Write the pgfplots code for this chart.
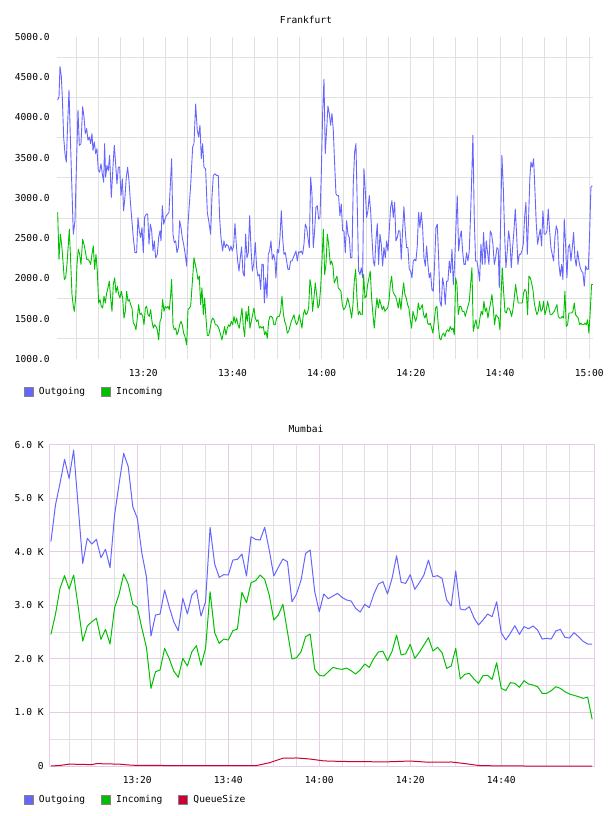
\documentclass[border=0pt]{standalone}
\usepackage{pgfplots}
\usepackage{pgfplotstable}
\pgfplotsset{compat=1.18}
\usepackage{fontspec}
\setmainfont{DejaVu Sans Mono}
\definecolor{outblue}{RGB}{102,102,255}
\definecolor{ingreen}{RGB}{0,192,0}
\definecolor{qred}{RGB}{204,0,51}
\definecolor{gridgray}{RGB}{224,224,224}
\definecolor{pinkgrid}{RGB}{228,204,228}
\definecolor{boxgray}{RGB}{130,130,130}
\pgfplotstableread{
t out in
1 4189 2458
2 4873 2832
3 5278 3317
4 5726 3554
5 5371 3305
6 5900 3566
7 4842 2975
8 3784 2334
9 4251 2614
10 4145 2695
11 4232 2757
12 3890 2365
13 4046 2552
14 3703 2278
15 4687 2956
16 5278 3212
17 5838 3585
18 5589 3398
19 4842 3019
20 4624 2963
21 3971 2571
22 3535 2216
23 2427 1450
24 2819 1761
25 2838 1793
26 3286 2197
27 2975 2010
28 2695 1774
29 2527 1656
30 3131 2010
31 2838 1867
32 3193 2135
33 3286 2247
34 2801 1880
35 3068 2197
36 4456 3255
37 3772 2490
38 3523 2290
39 3573 2371
40 3566 2353
41 3846 2527
42 3859 2558
43 3958 3243
44 3548 3050
45 4282 3423
46 4232 3461
47 4220 3566
48 4456 3485
49 4033 3193
50 3548 2726
51 3710 2819
52 3865 3019
53 3815 2508
54 3068 1998
55 3212 2023
56 3473 2135
57 3971 2415
58 4033 2465
59 3255 1805
60 2882 1693
61 3212 1680
62 3124 1761
63 3174 1842
64 3224 1817
65 3149 1805
66 3100 1830
67 3081 1780
68 2944 1718
69 2875 1793
70 3019 1905
71 2956 1842
72 3212 2010
73 3398 2129
74 3442 2141
75 3212 1967
76 3504 2141
77 3927 2446
78 3429 2073
79 3411 2097
80 3573 2272
81 3299 2010
82 3423 2122
83 3566 2259
84 3846 2396
85 3535 2147
86 3554 2216
87 3504 2116
88 3100 1824
89 2988 1867
90 3641 2197
91 2932 1624
92 2913 1712
93 2975 1730
94 2770 1624
95 2633 1544
96 2726 1687
97 2838 1693
98 2788 1618
99 3068 1929
100 2490 1450
101 2353 1407
102 2477 1556
103 2620 1544
104 2458 1469
105 2602 1593
106 2564 1531
107 2614 1512
108 2539 1481
109 2371 1357
110 2384 1357
111 2371 1407
112 2521 1481
113 2552 1450
114 2402 1388
115 2390 1344
116 2490 1319
117 2415 1295
118 2328 1263
119 2278 1288
120 2278 871
}\mumbai
\pgfplotstableread{
t q
1 0
3 10
5 35
8 30
10 25
11 45
13 40
16 35
18 20
20 10
25 10
30 5
40 5
46 5
49 60
52 145
55 150
58 130
61 95
65 85
70 80
75 78
80 93
84 70
89 75
92 45
95 10
99 2
105 0
120 0
}\mumbaiq
\pgfplotsset{
 chartbase/.style={
  scale only axis, anchor=south west,
  /pgf/number format/assume math mode=true,
  major tick length=0pt, minor tick length=0pt,
  tick style={draw=none},
  xticklabel style={yshift=-7pt},
  legend columns=-1,
  legend cell align=left,
  legend style={draw=none, fill=none, inner sep=0pt, outer sep=0pt,
    at={(axis description cs:0,0)}, anchor=west,
    nodes={inner sep=0pt},
    /tikz/every odd column/.append style={column sep=5pt},
    /tikz/every even column/.append style={column sep=16pt}},
 },
 outleg/.style={legend image code/.code={\draw[fill=outblue,draw=boxgray,line width=1pt] (0.5pt,-4.5pt) rectangle (9.5pt,4.5pt);}},
 inleg/.style={legend image code/.code={\draw[fill=ingreen,draw=boxgray,line width=1pt] (0.5pt,-4.5pt) rectangle (9.5pt,4.5pt);}},
 qleg/.style={legend image code/.code={\draw[fill=qred,draw=boxgray,line width=1pt] (0.5pt,-4.5pt) rectangle (9.5pt,4.5pt);}},
}
\begin{document}
\fontsize{9.6}{11.5}\selectfont
\begin{tikzpicture}
\path[use as bounding box] (0,0) rectangle (608pt,816pt);
\node at (306pt,796pt) {Frankfurt};
\node at (306pt,387pt) {Mumbai};
\begin{axis}[chartbase,
  at={(57pt,457pt)}, width=536pt, height=322pt,
  xmin=0.65, xmax=120.85, ymin=1000, ymax=5000,
  axis line style={draw=none},
  xtick={20,40,60,80,100,120}, xticklabels={13:20,13:40,14:00,14:20,14:40,15:00},
  ytick={1000,1500,...,5000},
  yticklabels={1000.0,1500.0,2000.0,2500.0,3000.0,3500.0,4000.0,4500.0,5000.0},
  yticklabel style={xshift=-4pt},
  minor xtick={5,10,...,120}, minor ytick={1250,1750,...,4750},
  xmajorgrids=false, ymajorgrids=false,
  xminorgrids=true, yminorgrids=true,
  major grid style={gridgray, line width=1pt},
  minor grid style={gridgray, line width=1pt},
  legend style={xshift=-33pt, yshift=-33pt},
]
\addplot[outblue, line width=0.9pt, line join=round, outleg] coordinates {
(0.80,4217)(1.10,4258)(1.32,4633)(1.62,4508)(1.84,4258)(2.14,3758)(2.44,3550)(2.74,3446)(3.04,3925)(3.34,4342)(3.64,3758)(3.94,3217)(4.31,2550)(4.68,2717)(4.98,3342)(5.36,4092)(5.66,3654)(6.03,3675)(6.40,4133)(6.70,4008)(7.00,3800)(7.30,3863)(7.60,3717)(7.90,3758)(8.20,3675)(8.49,3800)(8.72,3592)(9.02,3696)(9.32,3550)(9.61,3613)(9.91,3342)(10.21,3321)(10.51,3425)(10.81,3300)(11.11,3196)(11.33,3675)(11.56,3258)(11.86,3404)(12.16,3342)(12.45,3529)(12.83,3008)(13.20,3383)(13.50,3654)(13.80,3425)(14.10,3175)(14.40,3383)(14.70,3383)(15.00,3029)(15.30,3238)(15.59,2842)(15.89,3008)(16.19,3258)(16.49,3383)(16.79,3217)(17.09,2967)(17.39,2758)(17.76,2508)(18.13,2321)(18.51,2321)(18.81,2758)(19.11,2592)(19.41,2508)(19.71,2633)(20.00,2321)(20.30,2758)(20.68,2800)(20.98,2800)(21.28,2425)(21.58,2675)(21.88,2592)(22.18,2342)(22.48,2467)(22.77,2258)(23.15,2300)(23.45,2508)(23.75,2592)(23.97,2467)(24.27,2904)(24.57,2675)(24.87,2738)(25.17,2779)(25.46,2800)(25.76,2821)(26.06,3154)(26.36,3488)(26.66,2550)(26.96,2446)(27.26,2467)(27.56,2321)(27.86,2383)(28.16,2717)(28.46,2633)(28.75,2508)(29.05,2425)(29.35,2321)(29.73,2154)(30.03,2675)(30.33,2925)(30.62,3154)
(31.07,3633)(31.37,3675)(31.74,4167)(32.11,3842)(32.41,3758)(32.71,3904)(33.01,3488)(33.31,3675)(33.61,3383)(33.98,3363)(34.36,2821)(34.73,2696)(35.10,2550)(35.40,3008)(35.70,3279)(36.08,3300)(36.45,3279)(36.82,3279)(37.12,2758)(37.42,2508)(37.79,2342)(38.09,2467)(38.39,2383)(38.69,2425)(39.06,2404)(39.36,2342)(39.66,2404)(39.96,2342)(40.26,2404)(40.56,2683)(40.86,2425)(41.16,2217)(41.46,2092)(41.76,2258)(42.05,2392)(42.35,2071)(42.65,2029)(42.95,2550)(43.25,2258)(43.55,2321)(43.85,2779)(44.15,2383)(44.45,2092)(44.75,2175)(45.12,2446)(45.42,2133)(45.72,2029)(46.02,2050)(46.32,1863)(46.61,2175)(46.91,2175)(47.14,1696)(47.44,2008)(47.74,1758)(48.03,2300)(48.33,2342)(48.63,2467)(48.93,2238)(49.23,2300)(49.53,2217)(49.75,2008)(50.05,2363)(50.35,2321)(50.65,2508)(50.95,2842)(51.25,2508)(51.55,2300)(51.85,2321)(52.15,2217)(52.44,2113)(52.74,2113)(53.04,2217)(53.34,2217)(53.64,2258)(53.94,2300)(54.24,2342)(54.54,2217)(54.84,2333)(55.14,2321)(55.43,2342)(55.73,2300)(56.03,2425)(56.33,2675)(56.63,2633)(56.93,2508)(57.23,2383)(57.53,3258)(57.83,3050)(58.12,2383)(58.42,2592)(58.72,2883)(59.02,2904)(59.32,2738)(59.62,2758)(59.92,3300)(60.22,4050)(60.52,4475)(60.81,3550)(61.11,3842)(61.41,4142)(61.71,4050)
(62.01,3904)(62.31,4050)(62.61,3842)(62.91,3425)(63.21,3050)(63.51,3029)(63.80,3029)(64.10,2779)(64.40,2925)(64.70,2592)(65.00,2592)(65.30,2321)(65.60,2717)(65.90,2550)(66.20,2508)(66.49,2258)(66.79,2258)(67.09,3175)(67.39,3571)(67.69,3675)(67.99,2883)(68.29,2092)(68.59,2050)(68.89,2133)(69.19,2008)(69.48,3363)(69.78,3092)(70.08,2758)(70.38,2842)(70.68,3029)(70.98,2842)(71.28,2508)(71.58,2217)(71.88,2154)(72.17,2467)(72.47,2683)(72.77,2175)(73.07,2550)(73.37,2425)(73.67,2154)(73.97,2383)(74.27,2258)(74.57,2467)(74.87,2342)(75.16,2592)(75.46,2883)(75.76,2967)(76.06,2758)(76.36,2946)(76.66,2467)(76.96,2508)(77.26,2592)(77.56,2592)(77.85,2238)(78.15,2592)(78.45,2892)(78.75,2592)(79.05,2383)(79.35,2383)(79.65,2113)(79.95,2092)(80.25,2008)(80.55,2217)(80.84,2238)(81.14,2217)(81.44,2404)(81.74,2821)(82.04,2633)(82.34,2821)(82.64,2633)(82.94,2258)(83.24,2154)(83.54,2404)(83.83,2175)(84.13,2008)(84.43,2071)(84.73,1863)(85.03,1842)(85.33,2175)(85.63,2633)(85.93,2675)(86.23,2258)(86.53,1717)(86.82,1654)(87.12,2008)(87.42,1904)(87.72,1675)(88.02,1967)(88.32,1967)(88.62,2217)(88.92,2071)(89.22,2363)(89.52,1925)(89.81,2175)(90.11,2633)(90.41,3029)(90.71,2342)(91.01,2508)(91.31,2592)(91.61,2342)
(91.91,2175)(92.21,2175)(92.50,2321)(92.80,2217)(93.10,2342)(93.40,2800)(93.70,3342)(93.92,3779)(94.22,2758)(94.52,2217)(94.82,2217)(95.12,2113)(95.42,1967)(95.72,2425)(96.02,2175)(96.32,2571)(96.62,2175)(96.91,2467)(97.21,2321)(97.51,2175)(97.81,2592)(98.11,2550)(98.41,2425)(98.71,2175)(99.01,2258)(99.31,2383)(99.60,2363)(99.83,1883)(100.13,2675)(100.43,3529)(100.73,3133)(101.03,2550)(101.32,2133)(101.62,2342)(101.92,2592)(102.22,2467)(102.52,2133)(102.82,2383)(103.12,2592)(103.42,2863)(103.72,2550)(104.01,2175)(104.31,2300)(104.61,2300)(104.91,2342)(105.21,2425)(105.51,2758)(105.81,2946)(106.11,2300)(106.41,2758)(106.70,3258)(106.93,3446)(107.23,3383)(107.53,3488)(107.83,3092)(108.13,2675)(108.43,2425)(108.72,2529)(109.02,2613)(109.32,2404)(109.62,2842)(109.92,2550)(110.22,2550)(110.52,2592)(110.82,2863)(111.12,2592)(111.41,2383)(111.71,2300)(112.01,2217)(112.31,2508)(112.61,2654)(112.91,2592)(113.21,2175)(113.51,2029)(113.81,2175)(114.10,1988)(114.40,2738)(114.70,2425)(115.00,2008)(115.30,2383)(115.60,2425)(115.90,2217)(116.20,2383)(116.50,2571)(116.79,2258)(117.09,2154)(117.39,2342)(117.69,2217)(117.99,2133)(118.29,2092)(118.59,2071)(118.89,1904)(119.19,2154)(119.49,2113)(119.79,2113)(120.08,2529)(120.38,3133)(120.68,3154)
};
\addlegendentry{Outgoing}
\addplot[ingreen, line width=0.9pt, line join=round, inleg] coordinates {
(0.80,2821)(1.10,2238)(1.40,2550)(1.69,2425)(1.99,2217)(2.29,1988)(2.59,2008)(2.89,2175)(3.19,2425)(3.41,2613)(3.71,2217)(4.01,1800)(4.31,1654)(4.54,1592)(4.83,1758)(5.13,2175)(5.43,2363)(5.73,2300)(6.03,2175)(6.40,2488)(6.70,2425)(7.00,2342)(7.30,2238)(7.60,2238)(7.90,2217)(8.20,2175)(8.49,2300)(8.79,2404)(9.09,2113)(9.39,2300)(9.69,2092)(9.99,1696)(10.29,1738)(10.59,1654)(10.89,1633)(11.19,1779)(11.49,1696)(11.79,1821)(12.08,1883)(12.38,1967)(12.68,1758)(12.98,1592)(13.28,1925)(13.58,2008)(13.88,1821)(14.18,1904)(14.48,1800)(14.77,1758)(15.07,1842)(15.37,1758)(15.67,1508)(15.97,1592)(16.27,1842)(16.57,1717)(16.87,1738)(17.17,1675)(17.47,1633)(17.76,1446)(18.06,1425)(18.36,1363)(18.66,1508)(18.96,1675)(19.26,1550)(19.56,1571)(19.86,1529)(20.16,1425)(20.46,1633)(20.75,1654)(21.05,1550)(21.35,1529)(21.65,1613)(21.95,1467)(22.25,1383)(22.55,1425)(22.85,1404)(23.15,1363)(23.45,1238)(23.75,1467)(24.04,1508)(24.34,1738)(24.64,1592)(24.94,1654)(25.24,1633)(25.54,1654)(25.84,1613)(26.14,1800)(26.36,1988)(26.66,1425)(26.96,1363)(27.26,1383)(27.56,1300)(27.86,1342)(28.16,1425)(28.46,1467)(28.75,1425)(29.05,1321)(29.35,1279)(29.73,1175)(30.03,1613)(30.33,1633)(30.62,1654)
(31.07,2008)(31.37,2258)(31.67,2175)(31.97,2092)(32.26,1988)(32.56,2029)(32.86,1675)(33.16,1883)(33.46,1550)(33.76,1758)(34.06,1508)(34.36,1292)(34.66,1292)(34.95,1363)(35.25,1467)(35.55,1508)(35.85,1488)(36.15,1425)(36.45,1425)(36.75,1404)(37.05,1363)(37.35,1300)(37.64,1238)(37.94,1321)(38.24,1404)(38.54,1300)(38.84,1383)(39.14,1425)(39.44,1404)(39.74,1467)(40.04,1425)(40.34,1529)(40.63,1446)(40.93,1508)(41.23,1425)(41.53,1383)(41.83,1508)(42.13,1633)(42.43,1404)(42.73,1279)(43.03,1592)(43.32,1467)(43.62,1654)(43.92,1383)(44.22,1467)(44.52,1550)(44.82,1633)(45.12,1508)(45.42,1467)(45.72,1488)(46.02,1383)(46.32,1404)(46.61,1383)(46.91,1404)(47.21,1300)(47.51,1342)(47.81,1258)(48.11,1467)(48.41,1529)(48.71,1529)(49.01,1508)(49.30,1425)(49.60,1425)(49.90,1508)(50.20,1529)(50.50,1529)(50.80,1592)(51.10,1779)(51.40,1571)(51.70,1467)(51.99,1425)(52.29,1321)(52.59,1342)(52.89,1404)(53.19,1467)(53.49,1508)(53.79,1550)(54.09,1467)(54.39,1425)(54.69,1467)(54.98,1550)(55.28,1467)(55.58,1383)(55.88,1550)(56.18,1613)(56.48,1550)(56.78,1571)(57.08,1633)(57.38,1988)(57.68,1883)(57.97,1592)(58.27,1758)(58.57,1946)(58.87,1800)(59.17,1633)(59.47,1675)(59.77,1883)(60.07,2217)(60.37,2613)(60.67,2050)(60.97,2175)(61.27,2550)(61.57,2425)
(61.94,2175)(62.23,2217)(62.53,2154)(62.83,1946)(63.13,1988)(63.43,2029)(63.73,1883)(64.03,1863)(64.33,1842)(64.63,1675)(64.93,1613)(65.22,1633)(65.52,1675)(65.82,1758)(66.12,1696)(66.42,1613)(66.72,1508)(67.02,1675)(67.32,1967)(67.62,2113)(67.92,1758)(68.21,1550)(68.51,1592)(68.81,1550)(69.11,1550)(69.41,2050)(69.71,1758)(70.01,1779)(70.31,1925)(70.61,2008)(70.90,2092)(71.20,1758)(71.50,1550)(71.80,1383)(72.10,1592)(72.40,1758)(72.70,1633)(73.00,1738)(73.30,1675)(73.59,1613)(73.89,1654)(74.19,1592)(74.49,1613)(74.79,1633)(75.09,1717)(75.39,1925)(75.69,2029)(75.99,1842)(76.28,1800)(76.58,1779)(76.88,1717)(77.18,1633)(77.48,1758)(77.78,1613)(78.08,1800)(78.38,1946)(78.68,1800)(78.97,1758)(79.27,1675)(79.57,1633)(79.87,1488)(80.17,1383)(80.47,1592)(80.77,1529)(81.07,1467)(81.37,1529)(81.67,1696)(81.96,1613)(82.26,1633)(82.56,1675)(82.86,1550)(83.16,1508)(83.46,1571)(83.76,1446)(84.06,1425)(84.36,1446)(84.66,1383)(84.95,1321)(85.25,1467)(85.55,1633)(85.85,1654)(86.15,1425)(86.45,1258)(86.75,1238)(87.05,1300)(87.35,1321)(87.65,1279)(87.94,1342)(88.24,1363)(88.54,1342)(88.84,1404)(89.14,1363)(89.44,1383)(89.74,1300)(90.04,2008)(90.34,1925)(90.64,1550)(90.94,1654)(91.24,1654)(91.54,1592)
(91.91,1592)(92.21,1529)(92.50,1592)(92.80,1654)(93.10,1717)(93.40,1925)(93.70,2133)(94.00,1342)(94.30,1425)(94.60,1488)(94.90,1383)(95.20,1383)(95.49,1508)(95.79,1592)(96.09,1550)(96.39,1717)(96.69,1592)(96.99,1633)(97.29,1508)(97.59,1613)(97.89,1696)(98.18,1800)(98.48,1633)(98.78,1425)(99.08,1550)(99.38,1529)(99.68,1508)(99.98,1363)(100.28,1842)(100.50,2133)(100.80,1842)(101.10,1592)(101.40,1571)(101.70,1633)(102.00,1633)(102.30,1592)(102.59,1529)(102.89,1613)(103.19,1758)(103.49,1925)(103.79,1800)(104.09,1696)(104.39,1696)(104.69,1696)(104.99,1696)(105.29,1821)(105.58,1863)(105.88,1842)(106.18,1550)(106.48,2029)(106.78,2008)(107.08,1946)(107.38,1863)(107.68,1696)(107.98,1613)(108.27,1550)(108.57,1592)(108.87,1717)(109.17,1592)(109.47,1613)(109.77,1717)(110.07,1550)(110.37,1613)(110.67,1717)(110.97,1633)(111.26,1550)(111.56,1550)(111.86,1571)(112.16,1592)(112.46,1633)(112.76,1675)(113.06,1529)(113.36,1508)(113.66,1508)(113.95,1529)(114.25,1508)(114.55,1842)(114.85,1404)(115.15,1425)(115.45,1571)(115.75,1571)(116.05,1571)(116.35,1592)(116.65,1696)(116.94,1550)(117.24,1529)(117.54,1508)(117.84,1425)(118.14,1446)(118.44,1425)(118.74,1425)(119.04,1446)(119.34,1425)(119.64,1488)(119.93,1321)(120.23,1592)(120.53,1925)(120.80,1925)
};
\addlegendentry{Incoming}
\end{axis}
\begin{axis}[chartbase,
  at={(50pt,50pt)}, width=544pt, height=321.3pt,
  xmin=0.8, xmax=120.4, ymin=0, ymax=6000,
  axis line style={pinkgrid, line width=1pt},
  xtick={20,40,60,80,100}, xticklabels={13:20,13:40,14:00,14:20,14:40},
  ytick={0,1000,...,6000},
  yticklabels={0,1.0 K,2.0 K,3.0 K,4.0 K,5.0 K,6.0 K},
  yticklabel style={xshift=-3pt},
  minor xtick={5,10,15,25,30,35,45,50,55,65,70,75,85,90,95,105,110,115},
  minor ytick={500,1500,2500,3500,4500,5500},
  xmajorgrids=true, ymajorgrids=true, xminorgrids=true, yminorgrids=true,
  major grid style={pinkgrid, line width=1pt},
  minor grid style={gridgray, line width=1pt},
  legend style={xshift=-26pt, yshift=-34pt},
]
\addplot[outblue, line width=1pt, line join=round, outleg] table[x=t, y=out] {\mumbai};
\addlegendentry{Outgoing}
\addplot[ingreen, line width=1pt, line join=round, inleg] table[x=t, y=in] {\mumbai};
\addlegendentry{Incoming}
\addplot[qred, line width=1pt, line join=round, qleg] table[x=t, y=q] {\mumbaiq};
\addlegendentry{QueueSize}
\end{axis}
\end{tikzpicture}
\end{document}
